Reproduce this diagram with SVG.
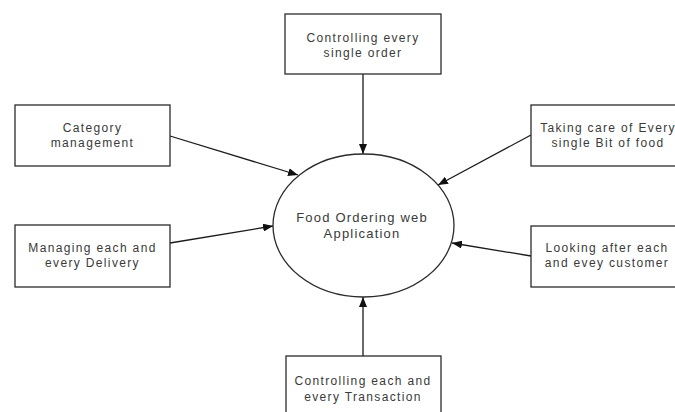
<svg xmlns="http://www.w3.org/2000/svg" width="675" height="412" viewBox="0 0 675 412">
<defs>
<style>
.box{fill:#fff;stroke:#2b2b2b;stroke-width:1.3}
.t{font-family:"Liberation Sans",Arial,sans-serif;font-size:12px;letter-spacing:1.35px;fill:#3a3a3a;text-anchor:middle}
.te{font-family:"Liberation Sans",Arial,sans-serif;font-size:13px;letter-spacing:1.2px;fill:#3a3a3a;text-anchor:middle}
.c{stroke:#1a1a1a;stroke-width:1.3;fill:none;marker-end:url(#ah)}
</style>
<marker id="ah" viewBox="0 0 10 8" refX="10" refY="4" markerWidth="10" markerHeight="8" markerUnits="userSpaceOnUse" orient="auto">
<path d="M0,0 L10,4 L0,8 z" fill="#111"/>
</marker>
</defs>
<rect width="675" height="412" fill="#fff"/>
<g id="connectors">
<line class="c" x1="363" y1="74" x2="363" y2="154"/>
<line class="c" x1="170" y1="136" x2="298" y2="175"/>
<line class="c" x1="531" y1="135" x2="438" y2="185"/>
<line class="c" x1="170" y1="243" x2="273" y2="226"/>
<line class="c" x1="531" y1="256" x2="452" y2="243"/>
<line class="c" x1="363" y1="356" x2="363" y2="297"/>
</g>
<g id="center">
<ellipse cx="363.5" cy="225.5" rx="90.5" ry="71.5" fill="#fff" stroke="#2b2b2b" stroke-width="1.3"/>
<text class="te" x="362" y="222">Food Ordering web</text>
<text class="te" x="362" y="238">Application</text>
</g>
<g id="top">
<rect class="box" x="285" y="14" width="156" height="60"/>
<text class="t" x="363" y="42">Controlling every</text>
<text class="t" x="363" y="57">single order</text>
</g>
<g id="category">
<rect class="box" x="15" y="105" width="155" height="61"/>
<text class="t" x="92.5" y="132">Category</text>
<text class="t" x="92.5" y="147">management</text>
</g>
<g id="takingcare">
<rect class="box" x="531" y="105" width="155" height="61"/>
<text class="t" x="608" y="132">Taking care of Every</text>
<text class="t" x="608" y="147">single Bit of food</text>
</g>
<g id="delivery">
<rect class="box" x="15" y="225" width="155" height="62"/>
<text class="t" x="92.5" y="252">Managing each and</text>
<text class="t" x="92.5" y="267">every Delivery</text>
</g>
<g id="customer">
<rect class="box" x="531" y="226" width="155" height="61"/>
<text class="t" x="607" y="252">Looking after each</text>
<text class="t" x="607" y="267">and evey customer</text>
</g>
<g id="transaction">
<rect class="box" x="286" y="356" width="155" height="70"/>
<text class="t" x="363" y="385">Controlling each and</text>
<text class="t" x="363" y="401">every Transaction</text>
</g>
</svg>
